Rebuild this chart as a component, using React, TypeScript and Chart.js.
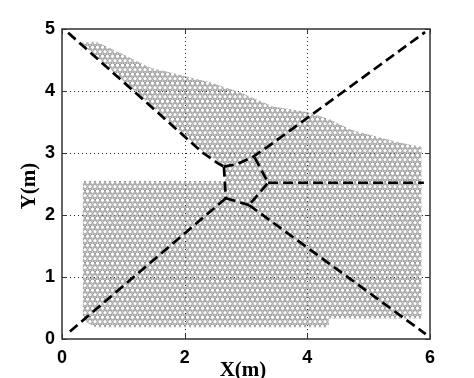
import React, { useEffect, useRef } from 'react';
import { Chart, registerables } from 'chart.js';
Chart.register(...registerables);

// ---- data ----
const xTickValues = [0, 2, 4, 6];
const yTickValues = [0, 1, 2, 3, 4, 5];
const gridXValues = [2, 4];
const gridYValues = [1, 2, 3, 4];
const xTitle = 'X(m)';
const yTitle = 'Y(m)';

// outline of the hatched (dotted) coverage area
const regionX = [0.3, 0.55, 1.06, 1.43, 1.88, 2.41, 2.9, 3.44, 4.0, 4.37, 4.7, 5.18, 5.63, 5.86, 5.86, 4.35, 4.35, 0.55, 0.34, 0.34, 2.66, 2.66, 2.3, 0.3];
const regionY = [4.78, 4.8, 4.56, 4.38, 4.27, 4.14, 3.98, 3.75, 3.66, 3.54, 3.38, 3.25, 3.14, 3.1, 0.33, 0.33, 0.19, 0.19, 0.3, 2.55, 2.55, 2.8, 3.02, 4.78];

// dashed boundary lines
const nwX = [0.1, 2.3, 2.55, 2.64];
const nwY = [4.94, 3.0, 2.83, 2.78];
const neX = [2.64, 2.85, 3.1, 3.34, 5.92];
const neY = [2.78, 2.82, 2.93, 3.09, 4.95];
const leftX = [2.64, 2.67];
const leftY = [2.78, 2.27];
const swX = [2.67, 0.08];
const swY = [2.27, 0.08];
const bottomX = [2.67, 3.05];
const bottomY = [2.27, 2.16];
const seX = [3.05, 5.93];
const seY = [2.16, 0.08];
const rightX = [3.14, 3.36, 3.05];
const rightY = [2.93, 2.52, 2.16];
const eastX = [3.36, 5.9];
const eastY = [2.52, 2.52];

const lines = [
  [nwX, nwY],
  [neX, neY],
  [leftX, leftY],
  [swX, swY],
  [bottomX, bottomY],
  [seX, seY],
  [rightX, rightY],
  [eastX, eastY],
];

const toPts = (xs: number[], ys: number[]) => xs.map((x, i) => ({ x, y: ys[i] }));

function makePattern(): CanvasPattern | string {
  const c = document.createElement('canvas');
  c.width = 5;
  c.height = 9;
  const g = c.getContext('2d');
  if (!g) return '#bbb';
  g.strokeStyle = '#939393';
  g.lineWidth = 1;
  const rings = [
    [2.5, 2.25],
    [0, 6.75],
    [5, 6.75],
    [2.5, 11.25],
    [0, -2.25],
    [5, -2.25],
  ];
  rings.forEach(([cx, cy]) => {
    g.beginPath();
    g.arc(cx, cy, 2.2, 0, Math.PI * 2);
    g.stroke();
  });
  return g.createPattern(c, 'repeat') || '#bbb';
}

const framePlugin = {
  id: 'framePlugin',
  beforeDatasetsDraw(chart: any) {
    const { ctx, chartArea: a, scales } = chart;
    const x = scales.x;
    const y = scales.y;
    ctx.save();
    ctx.strokeStyle = '#222';
    ctx.lineWidth = 1;
    ctx.setLineDash([1, 3]);
    gridXValues.forEach((v) => {
      const px = Math.round(x.getPixelForValue(v)) + 0.5;
      ctx.beginPath();
      ctx.moveTo(px, a.top);
      ctx.lineTo(px, a.bottom);
      ctx.stroke();
    });
    gridYValues.forEach((v) => {
      const py = Math.round(y.getPixelForValue(v)) + 0.5;
      ctx.beginPath();
      ctx.moveTo(a.left, py);
      ctx.lineTo(a.right, py);
      ctx.stroke();
    });
    ctx.restore();
  },
  afterDatasetsDraw(chart: any) {
    const { ctx, chartArea: a, scales } = chart;
    const x = scales.x;
    const y = scales.y;
    ctx.save();
    ctx.setLineDash([]);
    ctx.strokeStyle = '#333';
    ctx.lineWidth = 1.5;
    ctx.strokeRect(a.left, a.top, a.right - a.left, a.bottom - a.top);
    ctx.lineWidth = 1;
    const t = 5;
    xTickValues.forEach((v) => {
      const px = Math.round(x.getPixelForValue(v)) + 0.5;
      ctx.beginPath();
      ctx.moveTo(px, a.bottom);
      ctx.lineTo(px, a.bottom - t);
      ctx.moveTo(px, a.top);
      ctx.lineTo(px, a.top + t);
      ctx.stroke();
    });
    yTickValues.forEach((v) => {
      const py = Math.round(y.getPixelForValue(v)) + 0.5;
      ctx.beginPath();
      ctx.moveTo(a.left, py);
      ctx.lineTo(a.left + t, py);
      ctx.moveTo(a.right, py);
      ctx.lineTo(a.right - t, py);
      ctx.stroke();
    });
    // axis titles
    ctx.fillStyle = '#000';
    ctx.font = 'bold 21px "Liberation Serif", "Times New Roman", serif';
    ctx.textAlign = 'center';
    ctx.textBaseline = 'alphabetic';
    ctx.fillText(xTitle, (a.left + a.right) / 2 - 3, 376);
    ctx.translate(29.5, (a.top + a.bottom) / 2 + 2);
    ctx.rotate(-Math.PI / 2);
    ctx.textBaseline = 'middle';
    ctx.fillText(yTitle, 0, 0);
    ctx.restore();
  },
};

export default function App() {
  const ref = useRef<HTMLCanvasElement | null>(null);
  useEffect(() => {
    if (!ref.current) return;
    const pattern = makePattern();
    const tickFont = { family: '"Liberation Sans", Arial, sans-serif', size: 18, weight: 'bold' as const };
    const datasets: any[] = [
      {
        data: toPts(regionX, regionY),
        showLine: true,
        fill: 'shape',
        backgroundColor: pattern,
        borderWidth: 0,
        borderColor: 'rgba(0,0,0,0)',
        pointRadius: 0,
        order: 10,
      },
      ...lines.map(([xs, ys]) => ({
        data: toPts(xs, ys),
        showLine: true,
        fill: false,
        borderColor: '#000',
        borderWidth: 2.7,
        borderDash: [10, 5],
        pointRadius: 0,
        tension: 0,
        order: 0,
      })),
    ];
    const chart = new Chart(ref.current, {
      type: 'scatter',
      data: { datasets },
      options: {
        animation: false,
        responsive: false,
        maintainAspectRatio: false,
        layout: { padding: { top: 29, right: 44, left: 0, bottom: 0 } },
        plugins: { legend: { display: false }, tooltip: { enabled: false } },
        scales: {
          x: {
            type: 'linear',
            min: 0,
            max: 6,
            afterBuildTicks: (s: any) => {
              s.ticks = xTickValues.map((v) => ({ value: v }));
            },
            afterFit: (s: any) => {
              s.height = 39;
            },
            grid: { display: false, drawTicks: false },
            border: { display: false },
            ticks: { padding: 8, font: tickFont, color: '#000', maxRotation: 0 },
          },
          y: {
            type: 'linear',
            min: 0,
            max: 5,
            afterBuildTicks: (s: any) => {
              s.ticks = yTickValues.map((v) => ({ value: v }));
            },
            afterFit: (s: any) => {
              s.width = 62;
            },
            grid: { display: false, drawTicks: false },
            border: { display: false },
            ticks: { padding: 7, font: tickFont, color: '#000' },
          },
        },
      },
      plugins: [framePlugin],
    });
    return () => chart.destroy();
  }, []);
  return (
    <div style={{ position: 'absolute', left: 0, top: 0, width: 474, height: 378, background: '#fff' }}>
      <canvas ref={ref} width={474} height={378} style={{ display: 'block' }} />
    </div>
  );
}
